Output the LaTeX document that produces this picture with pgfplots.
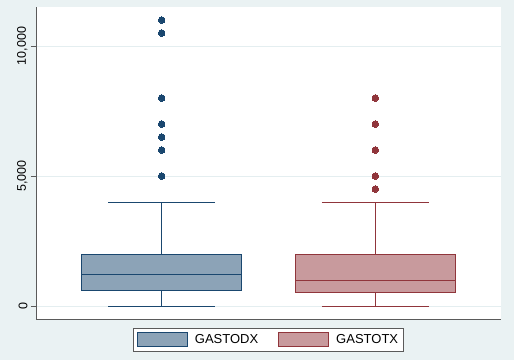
\documentclass[border=0pt]{standalone}
\usepackage{fontspec}
\setmainfont{Liberation Sans}
\usepackage{pgfplots}
\pgfplotsset{compat=1.18}
\usepgfplotslibrary{statistics}
\definecolor{bg}{RGB}{234,242,243}
\definecolor{navy}{RGB}{26,71,111}
\definecolor{navyf}{RGB}{140,163,183}
\definecolor{maroon}{RGB}{144,53,59}
\definecolor{maroonf}{RGB}{200,154,157}
\definecolor{axgray}{RGB}{90,90,90}
\definecolor{gridc}{RGB}{228,238,240}
\begin{document}
\begin{tikzpicture}
\useasboundingbox (0pt,0pt) rectangle (514pt,360pt);
\fill[bg] (0pt,0pt) rectangle (514pt,360pt);
\begin{axis}[
  at={(36pt,41pt)}, anchor=south west,
  scale only axis, width=465pt, height=312pt,
  xmin=0.412, xmax=2.588, ymin=-500, ymax=11500,
  axis background/.style={fill=white},
  axis lines*=left,
  axis line style={draw=axgray, line width=0.8pt, -},
  xtick=\empty,
  ytick={0,5000,10000},
  ymajorgrids,
  grid style={gridc, line width=0.8pt},
  tick align=outside, major tick length=5pt,
  ytick style={axgray, line width=0.8pt},
  scaled y ticks=false,
  /pgf/number format/assume math mode=true,
  /pgf/number format/1000 sep={,},
  yticklabel style={rotate=90, anchor=south, font=\fontsize{12.5}{15}\selectfont},
  clip=false,
  boxplot/draw direction=y,
  boxplot/box extend=0.75,
  boxplot/whisker extend=0.5,
  legend style={at={(0.5,-0.029)}, anchor=north, draw=axgray, line width=0.8pt, fill=white,
    font=\fontsize{13}{15}\selectfont, legend columns=2,
    inner xsep=3pt, inner ysep=4pt,
    /tikz/every odd column/.append style={column sep=5pt},
    /tikz/every even column/.append style={column sep=18pt}},
]
\addplot[boxplot prepared={draw position=1, median=1200, upper quartile=2000, lower quartile=600, upper whisker=4000, lower whisker=0},
  draw=navy, fill=navyf, line width=1pt, mark=*, mark size=3.3pt,
  mark options={fill=navy, draw=navy, line width=0pt}, forget plot]
  table[row sep=\\, y index=0] {y\\ 11000\\ 10500\\ 8000\\ 7000\\ 6500\\ 6000\\ 5000\\};
\addplot[boxplot prepared={draw position=2, median=1000, upper quartile=2000, lower quartile=520, upper whisker=4000, lower whisker=0},
  draw=maroon, fill=maroonf, line width=1pt, mark=*, mark size=3.3pt,
  mark options={fill=maroon, draw=maroon, line width=0pt}, forget plot]
  table[row sep=\\, y index=0] {y\\ 8000\\ 7000\\ 6000\\ 5000\\ 4500\\};
\addlegendimage{legend image code/.code={\draw[navy,fill=navyf,line width=1pt] (0pt,-7pt) rectangle (50pt,7pt);}}
\addlegendentry{GASTODX}
\addlegendimage{legend image code/.code={\draw[maroon,fill=maroonf,line width=1pt] (0pt,-7pt) rectangle (50pt,7pt);}}
\addlegendentry{GASTOTX}
\end{axis}
\end{tikzpicture}
\end{document}
